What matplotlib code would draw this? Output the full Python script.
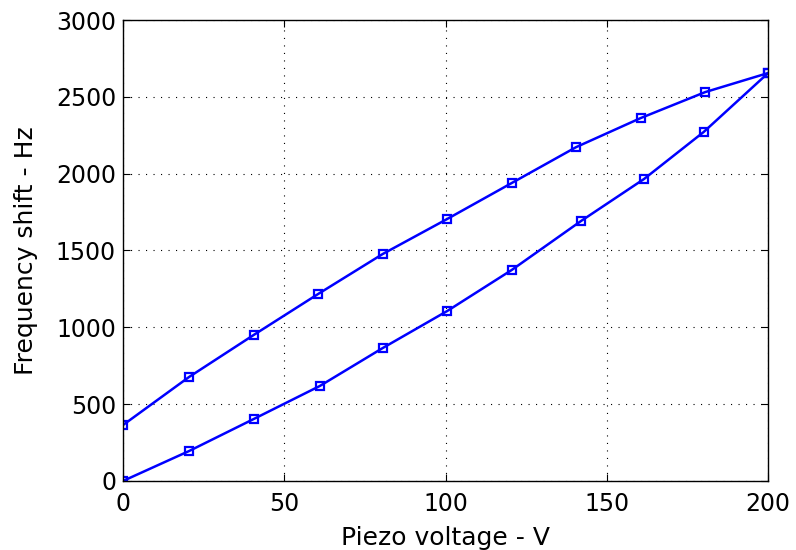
import matplotlib
matplotlib.use('Agg')
import matplotlib.pyplot as plt

# Piezo voltage sweep (V) and frequency shift (Hz)
v_up = [0, 20.5, 40.5, 61, 80.5, 100.5, 120.5, 142, 161.5, 180, 200]
f_up = [0, 195, 403, 618, 865, 1106, 1373, 1692, 1965, 2271, 2655]
v_down = [0, 20.5, 40.5, 60.5, 80.5, 100.5, 120.5, 140.5, 160.5, 180.5, 200]
f_down = [364, 677, 950, 1217, 1477, 1705, 1939, 2173, 2362, 2531, 2655]

x_ticks = [0, 50, 100, 150, 200]
y_ticks = [0, 500, 1000, 1500, 2000, 2500, 3000]

plt.rcParams['font.family'] = ['DejaVu Sans']

fig = plt.figure(figsize=(7.96, 5.5), dpi=100)
ax = fig.add_axes([0.1545, 0.1255, 0.965 - 0.1545, 0.9636 - 0.1255])

style = dict(color='#0000ff', linewidth=1.8, marker='s', markersize=6,
             markerfacecolor='none', markeredgewidth=1.6)
ax.plot(v_up, f_up, **style)
ax.plot(v_down, f_down, **style)

ax.set_xlim(0, 200)
ax.set_ylim(0, 3000)
ax.set_xticks(x_ticks)
ax.set_yticks(y_ticks)
ax.tick_params(direction='in', top=True, right=True, labelsize=17, length=5)
ax.tick_params(axis='x', pad=8)
ax.tick_params(axis='y', pad=5)
ax.grid(True, linestyle=(0, (1, 5.75)), color='black', linewidth=0.8)
for s in ax.spines.values():
    s.set_linewidth(1.0)

ax.set_xlabel('Piezo voltage - V', fontsize=18, labelpad=7)
ax.set_ylabel('Frequency shift - Hz', fontsize=18, labelpad=13)

fig.savefig('out.png', dpi=100)
plt.close(fig)
